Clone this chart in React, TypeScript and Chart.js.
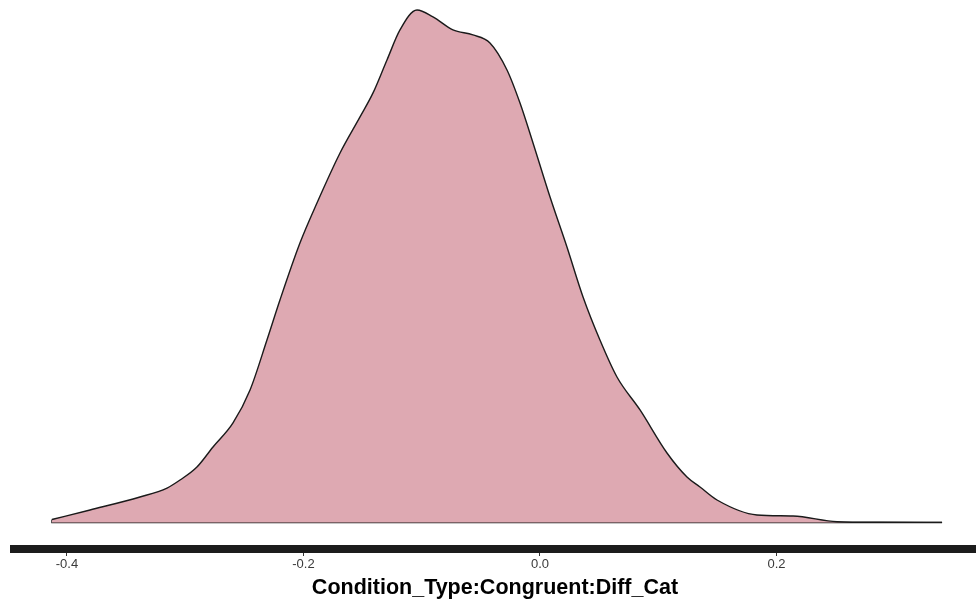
import React, { useEffect, useRef } from "react";
import { Chart, registerables } from "chart.js";

Chart.register(...registerables);

// Posterior density of the Condition_Type:Congruent:Diff_Cat coefficient
const estimate: number[] = [
  -0.4127, -0.3805, -0.3383, -0.3154, -0.3044, -0.2901, -0.2765, -0.2596, -0.2452,
  -0.2309, -0.2199, -0.203, -0.1886, -0.1691, -0.1522, -0.1412, -0.1294, -0.1184,
  -0.104, -0.0905, -0.0736, -0.0567, -0.0423, -0.0279, -0.0169, -0.0059, 0.0085,
  0.0228, 0.0364, 0.0507, 0.0651, 0.0846, 0.1074, 0.1243, 0.1353, 0.1497, 0.1835,
  0.214, 0.2512, 0.2875, 0.34,
];
const density: number[] = [
  0.026, 0.108, 0.22, 0.297, 0.366, 0.478, 0.651, 0.858, 1.142,
  1.573, 1.918, 2.409, 2.754, 3.185, 3.496, 3.703, 3.987, 4.246,
  4.418, 4.358, 4.246, 4.203, 4.134, 3.901, 3.616, 3.272, 2.806,
  2.375, 1.944, 1.573, 1.254, 0.97, 0.599, 0.392, 0.306, 0.194, 0.065,
  0.056, 0.007, 0.002, 0.001,
];
const xTicks: number[] = [-0.4, -0.2, 0.0, 0.2];
const xLimits: number[] = [-0.4448, 0.3687];
const yLimits: number[] = [-0.2284, 4.504];
const axisTitle = "Condition_Type:Congruent:Diff_Cat";

export default function App() {
  const ref = useRef<HTMLCanvasElement | null>(null);

  useEffect(() => {
    if (!ref.current) return;
    const curve = estimate.map((x, i) => ({ x, y: density[i] }));
    const first = estimate[0];
    const last = estimate[estimate.length - 1];
    // closing edge of the polygon: left step down to zero, then along the baseline
    const edge = [
      { x: first, y: density[0] },
      { x: first, y: 0 },
      { x: last, y: 0 },
    ];
    const chart = new Chart(ref.current, {
      type: "line",
      data: {
        datasets: [
          {
            data: curve,
            borderColor: "#1a1a1a",
            borderWidth: 1.4,
            backgroundColor: "#DEA9B2",
            fill: "origin",
            pointRadius: 0,
            cubicInterpolationMode: "monotone",
          },
          {
            data: edge,
            borderColor: "#1a1a1a",
            borderWidth: 1.4,
            fill: false,
            pointRadius: 0,
            tension: 0,
          },
        ],
      },
      options: {
        animation: false,
        responsive: false,
        devicePixelRatio: 1,
        layout: { padding: { left: 14, right: 0, top: 0, bottom: 0 } },
        plugins: {
          legend: { display: false },
          tooltip: { enabled: false },
        },
        scales: {
          x: {
            type: "linear",
            min: xLimits[0],
            max: xLimits[1],
            afterFit: (scale: any) => {
              scale.height = 53;
            },
            afterBuildTicks: (scale: any) => {
              scale.ticks = xTicks.map((v) => ({ value: v }));
            },
            border: { display: true, color: "#1c1c1c", width: 8 },
            grid: {
              display: true,
              drawOnChartArea: false,
              drawTicks: true,
              tickLength: 7,
              color: "#333333",
              lineWidth: 1,
            },
            ticks: {
              padding: 1,
              color: "#3a3a3a",
              font: { family: "'Liberation Sans', Arial, sans-serif", size: 13 },
              maxRotation: 0,
              callback: (v: any) => {
                const n = Number(v);
                return Math.abs(n) < 1e-9 ? "0.0" : n.toFixed(1);
              },
            },
            title: {
              display: true,
              text: axisTitle,
              color: "#000000",
              padding: { top: 0, bottom: 1 },
              font: {
                family: "'Liberation Sans', Arial, sans-serif",
                size: 21.5,
                weight: "bold",
              },
            },
          },
          y: {
            type: "linear",
            display: false,
            min: yLimits[0],
            max: yLimits[1],
          },
        },
      },
    });
    return () => chart.destroy();
  }, []);

  return (
    <div style={{ position: "fixed", left: 0, top: 0, width: 976, height: 602, background: "#ffffff" }}>
      <canvas ref={ref} width={976} height={602} />
    </div>
  );
}
